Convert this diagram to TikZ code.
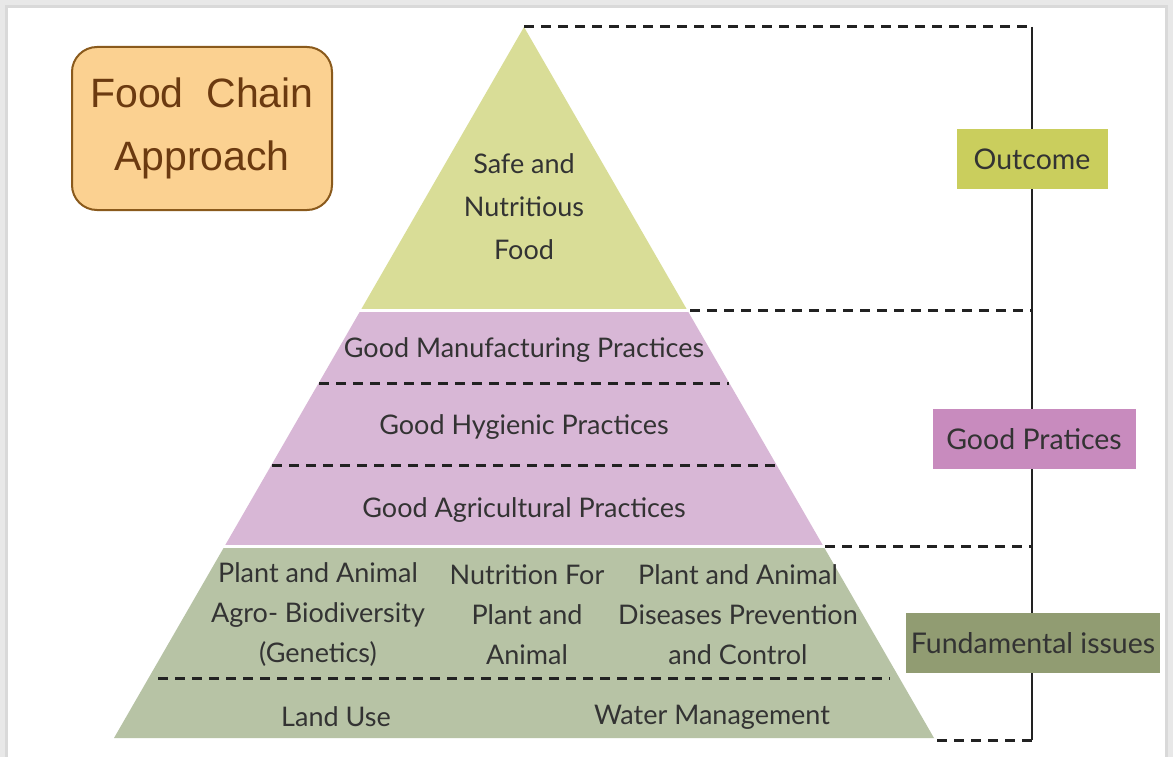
\documentclass[tikz,border=0pt]{standalone}
\usepackage{fontspec}
\setmainfont{Lato}
\newfontfamily\boxfont{Liberation Sans}
\usetikzlibrary{positioning}
\definecolor{topgreen}{HTML}{D9DD97}
\definecolor{midpink}{HTML}{D8B7D6}
\definecolor{lowgreen}{HTML}{B7C3A5}
\definecolor{outcomefill}{HTML}{CACE5D}
\definecolor{practicefill}{HTML}{C88BBE}
\definecolor{basefill}{HTML}{919C72}
\definecolor{boxfill}{HTML}{FBD191}
\definecolor{boxline}{HTML}{8A5A1C}
\definecolor{boxtext}{HTML}{6B3A10}
\definecolor{textgray}{HTML}{333333}
\definecolor{linegray}{HTML}{222222}

\begin{document}
\begin{tikzpicture}[x=1pt, y=-1pt,
    tier/.style={text=textgray, align=center, inner sep=0pt, font=\fontsize{27}{40}\selectfont},
    levelbox/.style={text=textgray, minimum height=60pt, inner sep=4pt, font=\fontsize{28.5}{30}\selectfont},
    cut/.style={linegray, line width=3pt, dash pattern=on 10pt off 7pt},
    spine/.style={linegray, line width=2.8pt}]
    % page and frame
    \useasboundingbox (0,0) rectangle (1173,757);
    \fill[gray!18] (0,0) rectangle (1173,757);
    \fill[gray!30] (5,5) rectangle (1168,757);
    \fill[white] (8,8) rectangle (1165,757);

    % pyramid corners
    \coordinate (apex) at (524,27);
    \coordinate (baseL) at (114,738);
    \coordinate (baseR) at (934,738);

    % the three tiers
    \begin{scope}
        \clip (apex) -- (baseL) -- (baseR) -- cycle;
        \fill[topgreen] (100,20) rectangle (950,309);
        \fill[midpink] (100,312) rectangle (950,545);
        \fill[lowgreen] (100,548) rectangle (950,740);
    \end{scope}

    % dashed cuts inside the pyramid
    \coordinate (gmpL) at (319,383);  \coordinate (gmpR) at (729,383);
    \coordinate (ghpL) at (272,465);  \coordinate (ghpR) at (776,465);
    \coordinate (landL) at (158,678); \coordinate (landR) at (890,678);
    \draw[cut] (gmpL) -- (gmpR);
    \draw[cut] (ghpL) -- (ghpR);
    \draw[cut] (landL) -- (landR);

    % bracket on the right
    \coordinate (topR) at (690,310);
    \coordinate (midR) at (825,546);
    \coordinate (lowR) at (937,740);
    \coordinate (s1) at (1032,27);
    \coordinate (s2) at (1032,310);
    \coordinate (s3) at (1032,546);
    \coordinate (s4) at (1032,740);
    \draw[spine] (s1) -- (s4);
    \draw[cut] (apex) -- (s1);
    \draw[cut] (topR) -- (s2);
    \draw[cut] (midR) -- (s3);
    \draw[cut] (lowR) -- (s4);

    % labels of the levels
    \node (outcome) [levelbox, fill=outcomefill, minimum width=151pt] at (1032,159) {Outcome};
    \node (practices) [levelbox, fill=practicefill, minimum width=203pt] at (1034,439) {Good Pratices};
    \node (basics) [levelbox, fill=basefill, minimum width=254pt] at (1033,643) {Fundamental issues};

    % texts in the pyramid
    \node (food) [tier, font=\fontsize{27}{43}\selectfont] at (524,207) {Safe and\\Nutritious\\Food};
    \node (gmp) [tier] at (524,350) {Good Manufacturing Practices};
    \node (ghp) [tier] at (524,427) {Good Hygienic Practices};
    \node (gap) [tier] at (524,510) {Good Agricultural Practices};
    \node (genetics) [tier] at (318,615) {Plant and Animal\\Agro- Biodiversity\\(Genetics)};
    \node (nutrition) [tier] at (527,615) {Nutrition For\\Plant and\\Animal};
    \node (disease) [tier] at (738,615) {Plant and Animal\\Diseases Prevention\\and Control};
    \node (land) [tier] at (336,717) {Land Use};
    \node (water) [tier] at (712,717) {Water Management};

    % title box
    \node (title) [draw=boxline, line width=2pt, fill=boxfill, rounded corners=25pt,
        minimum width=260pt, minimum height=163pt, align=center, text=boxtext,
        font=\boxfont\fontsize{41}{63}\selectfont] at (202,128.5) {Food\ \ Chain\\Approach};
\end{tikzpicture}
\end{document}
